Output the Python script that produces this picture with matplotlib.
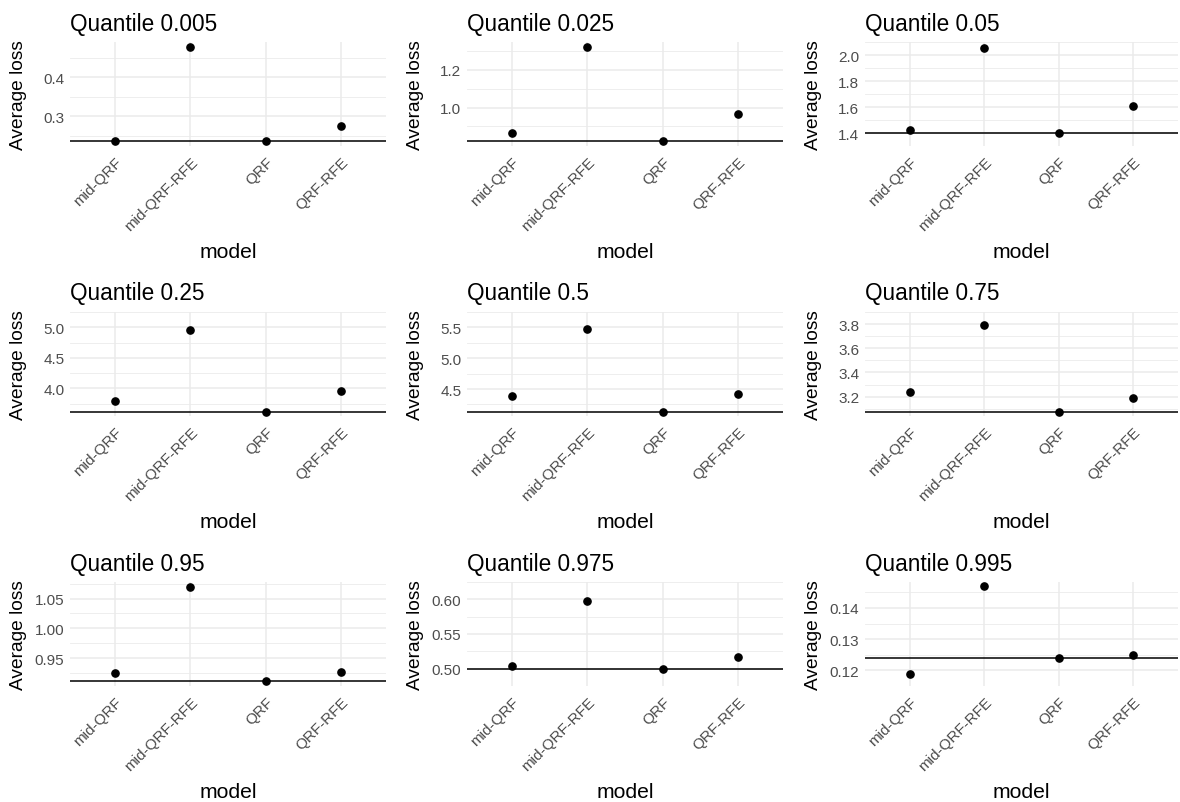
import matplotlib
matplotlib.use("Agg")
import matplotlib.pyplot as plt
import numpy as np

# Data
models = ["mid-QRF", "mid-QRF-RFE", "QRF", "QRF-RFE"]
quantiles = ["0.005", "0.025", "0.05", "0.25", "0.5", "0.75", "0.95", "0.975", "0.995"]

loss_q0005 = [0.236, 0.478, 0.236, 0.276]
loss_q0025 = [0.862, 1.324, 0.820, 0.964]
loss_q005 = [1.426, 2.053, 1.399, 1.607]
loss_q025 = [3.800, 4.962, 3.614, 3.948]
loss_q05 = [4.386, 5.476, 4.130, 4.424]
loss_q075 = [3.240, 3.795, 3.076, 3.192]
loss_q095 = [0.9243, 1.070, 0.911, 0.9265]
loss_q0975 = [0.5044, 0.5973, 0.500, 0.5174]
loss_q0995 = [0.1188, 0.1469, 0.1241, 0.1250]

losses = [loss_q0005, loss_q0025, loss_q005, loss_q025, loss_q05,
          loss_q075, loss_q095, loss_q0975, loss_q0995]

# y tick labels per panel
yticks = [
    ["0.3", "0.4"],
    ["1.0", "1.2"],
    ["1.4", "1.6", "1.8", "2.0"],
    ["4.0", "4.5", "5.0"],
    ["4.5", "5.0", "5.5"],
    ["3.2", "3.4", "3.6", "3.8"],
    ["0.95", "1.00", "1.05"],
    ["0.50", "0.55", "0.60"],
    ["0.12", "0.13", "0.14"],
]

plt.rcParams['font.family'] = ['Liberation Sans', 'DejaVu Sans']

W, H = 1180, 803
fig = plt.figure(figsize=(W / 100, H / 100), dpi=100)

# panel boxes in pixels (left, right) per column, (top, bottom) per row
cols = [(70, 386), (467, 783), (865, 1178)]
rows = [(43, 147), (313, 417), (583, 687)]

grid_col = '#EBEBEB'
tick_col = '#4D4D4D'

for k in range(9):
    r, c = divmod(k, 3)
    x0, x1 = cols[c]
    t0, b0 = rows[r]
    ax = fig.add_axes([x0 / W, 1 - b0 / H, (x1 - x0) / W, (b0 - t0) / H])

    vals = losses[k]
    x = np.arange(len(models))
    qrf = vals[models.index("QRF")]

    ax.axhline(qrf, color='black', linewidth=1.1, zorder=3)
    ax.plot(x, vals, 'o', color='black', markersize=5.2, zorder=4)

    ax.set_xlim(-0.6, 3.6)
    ax.margins(y=0.05)

    tv = [float(t) for t in yticks[k]]
    step = tv[1] - tv[0]
    minors = [tv[0] - step / 2] + [t + step / 2 for t in tv]
    ax.set_yticks(tv)
    ax.set_yticklabels(yticks[k])
    ax.set_yticks(minors, minor=True)
    ax.set_xticks(x)
    ax.set_xticklabels(models, rotation=45, ha='right', va='top',
                       rotation_mode='anchor')

    ax.grid(True, which='major', color=grid_col, linewidth=1.1, zorder=0)
    ax.grid(True, which='minor', axis='y', color=grid_col, linewidth=0.6, zorder=0)
    ax.set_axisbelow(True)
    for s in ax.spines.values():
        s.set_visible(False)
    ax.tick_params(axis='both', which='both', length=0)
    ax.tick_params(axis='y', labelsize=11, labelcolor=tick_col, pad=4)
    ax.tick_params(axis='x', labelsize=11, labelcolor=tick_col, pad=6)

    ax.set_title(f"Quantile {quantiles[k]}", loc='left', fontsize=16.3, pad=9)
    ax.set_ylabel("Average loss", fontsize=13.8)
    # fixed label position (right edge 43 px left of panel), like aligned facets
    ax.yaxis.set_label_coords(-43 / (x1 - x0), 0.5)
    ax.set_xlabel("model", fontsize=15.2, labelpad=6.5)

fig.savefig("out.png", dpi=100)
